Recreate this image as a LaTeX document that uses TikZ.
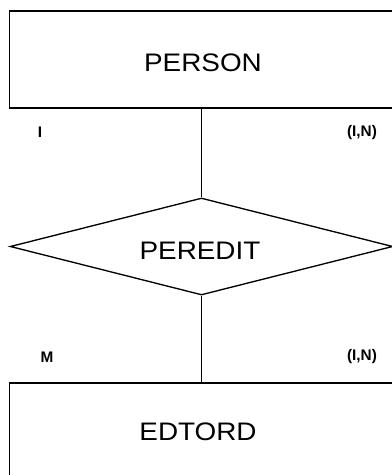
\documentclass[tikz,border=0pt]{standalone}
\usepackage{fontspec}
\setmainfont{Liberation Sans}
\newfontfamily\widefont{Liberation Sans}[FakeStretch=1.1]
\usetikzlibrary{shapes.geometric}
\begin{document}
\begin{tikzpicture}[x=0.75pt,y=-0.75pt,
  entity/.style={draw, line width=1pt, rectangle, minimum width=288pt, minimum height=72.75pt, inner sep=0pt},
  relation/.style={draw, line width=1pt, diamond, minimum width=287pt, minimum height=72.75pt, inner sep=0pt},
  bigtext/.style={font=\widefont\fontsize{19}{22}\selectfont, inner sep=0pt},
  card/.style={font=\bfseries\fontsize{11.5}{13}\selectfont, inner sep=0pt},
  link/.style={line width=1pt}]
\useasboundingbox (0,0) rectangle (392,475);
\clip (0,0) rectangle (392,475);
\fill[white] (0,0) rectangle (392,475);
\node[entity] (person) at (201.5,59.5) {};
\node[relation] (peredit) at (201.5,246.5) {};
\node[entity] (edtord) at (201.5,431.5) {};
\node[bigtext] (tperson) at (203,63) {PERSON};
\node[bigtext] (tperedit) at (200,251) {PEREDIT};
\node[bigtext] (tedtord) at (198,431.5) {EDTORD};
\draw[link] (person.south) -- (peredit.north);
\draw[link] (peredit.south) -- (edtord.north);
\node[card] (c1) at (40,132.5) {I};
\node[card] (c2) at (362,132.5) {(I,N)};
\node[card] (c3) at (47,357) {M};
\node[card] (c4) at (362,357) {(I,N)};
\end{tikzpicture}
\end{document}
